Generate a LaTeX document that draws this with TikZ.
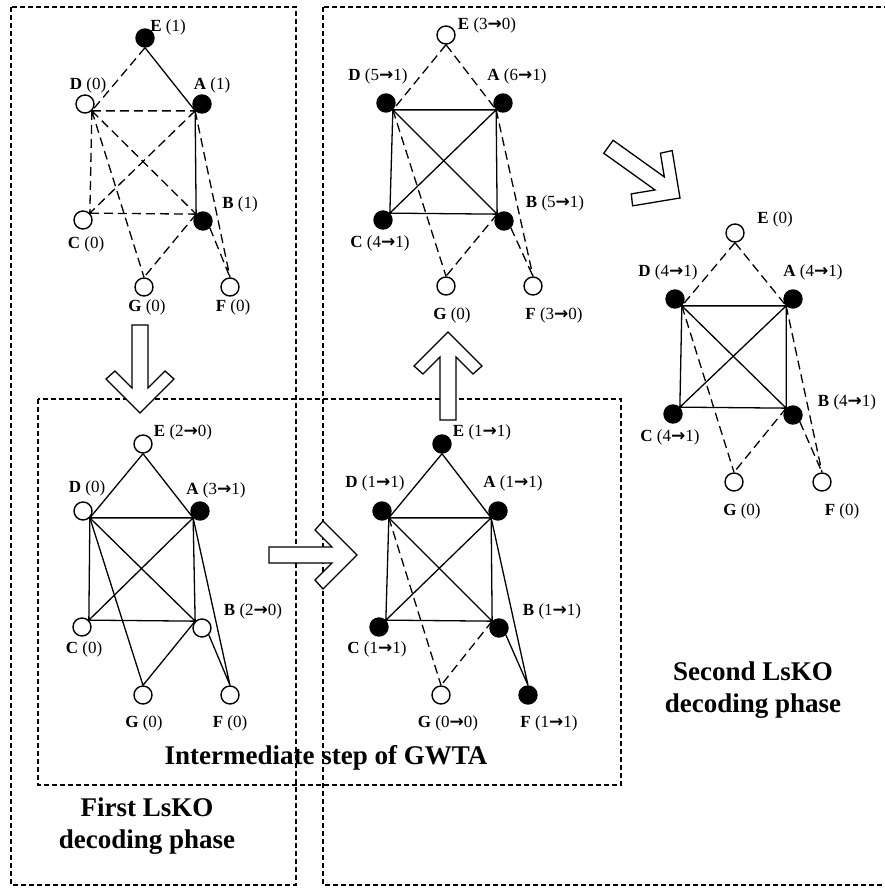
\documentclass[tikz,border=0pt]{standalone}
\usepackage{fontspec}
\setmainfont{Liberation Serif}
\newfontfamily\arwfont{DejaVu Sans}
\newcommand{\ra}{{\arwfont\bfseries →}}

\tikzset{
  vx/.style={draw,circle,line width=1.4pt,minimum size=18pt,inner sep=0pt,fill=white},
  vxon/.style={vx,fill=black},
  lbl/.style={font=\fontsize{17}{20}\selectfont,inner sep=0pt},
  ttl/.style={font=\fontsize{27}{32}\selectfont\bfseries,align=center},
  solidedge/.style={line width=1.3pt},
  dashedge/.style={line width=1.3pt,dash pattern=on 9pt off 5pt},
  phasebox/.style={line width=1.4pt,dash pattern=on 5pt off 3pt},
  blockarr/.pic={
    \draw[line width=1.3pt,fill=white,line join=miter] (0,0) -- (-34,-34) -- (-42,-25) -- (-25,-8)
      -- (-88,-8) -- (-88,8) -- (-25,8) -- (-42,25) -- (-34,34) -- cycle;
  }
}

\begin{document}
\begin{tikzpicture}[x=1pt,y=-1pt]
\path[use as bounding box] (0,0) rectangle (884,888);

% the three phases
\draw[phasebox] (11,7) rectangle (296,885);
\draw[phasebox] (323,7) rectangle (900,885);
\draw[phasebox] (38,399) rectangle (621,785);

% block arrows between the steps
\pic[rotate=-90] at (140,413) {blockarr};
\pic at (357,555) {blockarr};
\pic[rotate=90] at (448,332) {blockarr};
\pic[rotate=-35.6] at (680,198) {blockarr};

% graph 1 : first LsKO, initial state
\node[vxon] (E1) at (145,38) {};
\node[vx]   (D1) at (85,104) {};
\node[vxon] (A1) at (202,104) {};
\node[vx]   (C1) at (83,220) {};
\node[vxon] (B1) at (203,221) {};
\node[vx]   (G1) at (144,287) {};
\node[vx]   (F1) at (230,287) {};
\node[lbl] (E1l) at (168,27)  {\textbf{E} (1)};
\node[lbl] (D1l) at (88,85)   {\textbf{D} (0)};
\node[lbl] (A1l) at (212,85)  {\textbf{A} (1)};
\node[lbl] (C1l) at (86,244)  {\textbf{C} (0)};
\node[lbl] (B1l) at (240,204) {\textbf{B} (1)};
\node[lbl] (G1l) at (147,307) {\textbf{G} (0)};
\node[lbl] (F1l) at (233,307) {\textbf{F} (0)};
\draw[dashedge] (E1.south) -- (D1.south east)
  (D1.south east) -- (A1.south west)  (D1.south east) -- (C1.north east)
  (D1.south east) -- (B1.north west)  (D1.south east) -- (G1.north)
  (A1.south west) -- (C1.north east)  (A1.south west) -- (F1.north)
  (C1.north east) -- (B1.north west)  (B1.north west) -- (G1.north)
  (B1.south east) -- (F1.north);
\draw[solidedge] (E1.south) -- (A1.south west)  (A1.south west) -- (B1.north west);

% graph 2 : first LsKO, after GWTA
\node[vx]   (E2) at (446,35) {};
\node[vxon] (D2) at (386,103) {};
\node[vxon] (A2) at (503,103) {};
\node[vxon] (C2) at (383,220) {};
\node[vxon] (B2) at (504,221) {};
\node[vx]   (G2) at (446,286) {};
\node[vx]   (F2) at (533,286) {};
\node[lbl] (E2l) at (487,25)  {\textbf{E} (3\ra0)};
\node[lbl] (D2l) at (378,76)  {\textbf{D} (5\ra1)};
\node[lbl] (A2l) at (517,76)  {\textbf{A} (6\ra1)};
\node[lbl] (C2l) at (380,243) {\textbf{C} (4\ra1)};
\node[lbl] (B2l) at (555,203) {\textbf{B} (5\ra1)};
\node[lbl] (G2l) at (452,315) {\textbf{G} (0)};
\node[lbl] (F2l) at (554,315) {\textbf{F} (3\ra0)};

% graph 3 : intermediate step, left
\node[vx]   (E3) at (143,444) {};
\node[vx]   (D3) at (83,511) {};
\node[vxon] (A3) at (200,511) {};
\node[vx]   (C3) at (82,627) {};
\node[vx]   (B3) at (202,628) {};
\node[vx]   (G3) at (143,695) {};
\node[vx]   (F3) at (230,695) {};
\node[lbl] (E3l) at (183,432) {\textbf{E} (2\ra0)};
\node[lbl] (D3l) at (87,488)  {\textbf{D} (0)};
\node[lbl] (A3l) at (216,490) {\textbf{A} (3\ra1)};
\node[lbl] (C3l) at (84,649)  {\textbf{C} (0)};
\node[lbl] (B3l) at (253,611) {\textbf{B} (2\ra0)};
\node[lbl] (G3l) at (144,723) {\textbf{G} (0)};
\node[lbl] (F3l) at (230,723) {\textbf{F} (0)};

% graph 4 : intermediate step, right
\node[vxon] (E4) at (442,444) {};
\node[vxon] (D4) at (382,511) {};
\node[vxon] (A4) at (498,511) {};
\node[vxon] (C4) at (379,627) {};
\node[vxon] (B4) at (499,628) {};
\node[vx]   (G4) at (441,695) {};
\node[vxon] (F4) at (528,695) {};
\node[lbl] (E4l) at (482,432) {\textbf{E} (1\ra1)};
\node[lbl] (D4l) at (375,483) {\textbf{D} (1\ra1)};
\node[lbl] (A4l) at (513,483) {\textbf{A} (1\ra1)};
\node[lbl] (C4l) at (377,649) {\textbf{C} (1\ra1)};
\node[lbl] (B4l) at (552,611) {\textbf{B} (1\ra1)};
\node[lbl] (G4l) at (448,723) {\textbf{G} (0\ra0)};
\node[lbl] (F4l) at (549,723) {\textbf{F} (1\ra1)};

% graph 5 : second LsKO
\node[vx]   (E5) at (735,233) {};
\node[vxon] (D5) at (675,299) {};
\node[vxon] (A5) at (793,299) {};
\node[vxon] (C5) at (673,414) {};
\node[vxon] (B5) at (793,415) {};
\node[vx]   (G5) at (734,482) {};
\node[vx]   (F5) at (822,482) {};
\node[lbl] (E5l) at (775,219) {\textbf{E} (0)};
\node[lbl] (D5l) at (668,272) {\textbf{D} (4\ra1)};
\node[lbl] (A5l) at (813,272) {\textbf{A} (4\ra1)};
\node[lbl] (C5l) at (670,437) {\textbf{C} (4\ra1)};
\node[lbl] (B5l) at (847,402) {\textbf{B} (4\ra1)};
\node[lbl] (G5l) at (742,511) {\textbf{G} (0)};
\node[lbl] (F5l) at (842,511) {\textbf{F} (0)};

% the clique A,B,C,D
\foreach \g in {2,3,4,5} {
  \draw[solidedge] (D\g.south east) -- (A\g.south west) -- (B\g.north west)
    -- (C\g.north east) -- cycle
    (D\g.south east) -- (B\g.north west)  (A\g.south west) -- (C\g.north east);
}
\foreach \g in {2,5} {
  \draw[dashedge] (E\g.south) -- (D\g.south east)  (E\g.south) -- (A\g.south west)
    (D\g.south east) -- (G\g.north)  (B\g.north west) -- (G\g.north)
    (A\g.south west) -- (F\g.north)  (B\g.south east) -- (F\g.north);
}
\draw[solidedge] (E3.south) -- (D3.south east)  (E3.south) -- (A3.south west)
  (D3.south east) -- (G3.north)  (B3.north west) -- (G3.north)
  (A3.south west) -- (F3.north)  (B3.south east) -- (F3.north);
\draw[solidedge] (E4.south) -- (D4.south east)  (E4.south) -- (A4.south west)
  (A4.south west) -- (F4.north)  (B4.south east) -- (F4.north);
\draw[dashedge] (D4.south east) -- (G4.north)  (B4.north west) -- (G4.north);

% phase titles
\node[ttl] (t1) at (147,826) {First LsKO\\decoding phase};
\node[ttl] (t2) at (753,690) {Second LsKO\\decoding phase};
\node[ttl] (t3) at (326,758) {Intermediate step of GWTA};
\end{tikzpicture}
\end{document}
